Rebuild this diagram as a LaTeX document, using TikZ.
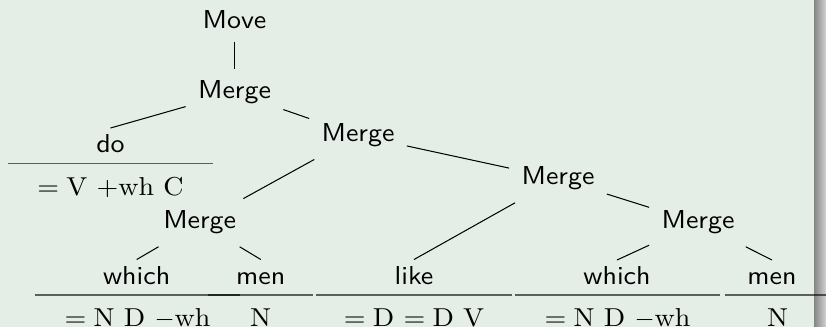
\documentclass[tikz,border=0pt]{standalone}
\usepackage{fontspec}
\setmainfont{Latin Modern Roman}[FakeStretch=1.08]
\setsansfont{Latin Modern Sans}[FakeStretch=1.08]
\definecolor{BlockBg}{HTML}{E4EEE6}
\definecolor{ShadowDark}{HTML}{858585}
\definecolor{ShadowLight}{HTML}{D2D2D2}
\newcommand{\feq}{=\hspace{0.28em}}
\tikzset{op/.style={font=\sffamily,inner sep=4.6pt,anchor=base},word/.style={font=\sffamily,inner xsep=2pt,inner ysep=2.5pt,text height=6.94pt,anchor=base},feat/.style={font=\rmfamily,minimum width=#1,inner ysep=0pt,text height=12pt,anchor=north},branch/.style={draw=black,line width=.4pt},rule/.style={draw=black,draw opacity=.6,line width=.5pt}}

\begin{document}
\begin{tikzpicture}[x=0.386pt,y=-0.386pt]
      \fill[BlockBg](0,0) rectangle (814,327);
      \shade[left color=ShadowDark,right color=ShadowLight](814,0) rectangle (826,327);
      \useasboundingbox(0,0) rectangle (826,327);
      % operations
      \node[op](move) at (234.5,29){Move};
      \node[op](merge1) at (234.5,99){Merge};
      \node[op](merge2) at (358,141.7){Merge};
      \node[op](merge3) at (558,185){Merge};
      \node[op](merge4) at (199.7,229){Merge};
      \node[op](merge5) at (698,229){Merge};
      % lexical items
      \node[word](do) at (110.5,153){do};
      \node[word](which1) at (136.7,284.5){which};
      \node[word](men1) at (260.8,284.5){men};
      \node[word](like) at (414,284.5){like};
      \node[word](which2) at (617,285){which};
      \node[word](men2) at (772,285){men};
      \node[feat=79.1pt](fdo) at (110.5,163.7){\feq V +wh C};
      \node[feat=79.1pt](fwhich1) at (137.5,295){\feq N D $-$wh};
      \node[feat=40.5pt](fmen1) at (260.5,295){N};
      \node[feat=74.9pt](flike) at (414,295){\feq D \feq D V};
      \node[feat=79.1pt](fwhich2) at (617.5,295){\feq N D $-$wh};
      \node[feat=40.5pt](fmen2) at (777.5,295){N};
      \foreach \f in {fdo,fwhich1,fmen1,flike,fwhich2,fmen2}
        \draw[rule](\f.north west)--(\f.north east);
      % branches
      \draw[branch](move)--(merge1);
      \draw[branch](merge1)--(do.north);\draw[branch](merge1)--(merge2);
      \draw[branch](merge2)--(merge4);\draw[branch](merge2)--(merge3);
      \draw[branch](merge4)--(which1.north);\draw[branch](merge4)--(men1.north);
      \draw[branch](merge3)--(like.north);\draw[branch](merge3)--(merge5);
      \draw[branch](merge5)--(which2.north);\draw[branch](merge5)--(men2.north);
    \end{tikzpicture}
\end{document}
